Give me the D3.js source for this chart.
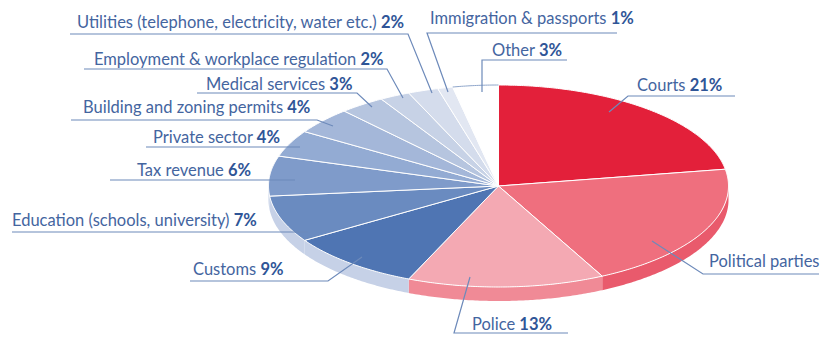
<!DOCTYPE html>
<html>
<head>
<meta charset="utf-8">
<script src="https://cdn.jsdelivr.net/npm/d3@7"></script>
<style>
html,body{margin:0;padding:0;background:#fff}
svg{display:block}
text{font-family:Lato,"Open Sans",sans-serif;font-size:16.5px;fill:#44659f}
text .pct{font-weight:700;fill:#2f5597}
</style>
</head>
<body>
<svg id="chart" width="822" height="338"></svg>
<script>
// Sectors, clockwise from twelve o'clock
const sectors = ["Courts","Political parties","Police","Customs","Education (schools, university)","Tax revenue","Private sector","Building and zoning permits","Medical services","Employment & workplace regulation","Utilities (telephone, electricity, water etc.)","Immigration & passports","Other"];
const shares = [21,19,13,9,7,6,4,4,3,2,2,1,3];
const shareLabels = ["21%","","13%","9%","7%","6%","4%","4%","3%","2%","2%","1%","3%"];
const topColors = ["#e3203a","#ef6f7e","#f4a9b3","#4f75b3","#6a8bc0","#7f9bca","#93abd3","#a4b7d9","#b6c5df","#c7d2e6","#d4dcec","#e2e7f2","#ffffff"];
const sideColors = ["#c81c32","#e95a6c","#f08a96","#c6d1e7","#c6d1e7","#c6d1e7","#c6d1e7","#c6d1e7","#c6d1e7","#c6d1e7","#c6d1e7","#c6d1e7","#ffffff"];

// Label anchor (x, baseline) and leader polyline for each sector
const labelAnchors = [[637,91],[709,267],[472,330],[193,275],[12,226],[137,176],[153,143],[83,113],[206,90],[94,65],[77,28],[430,24],[492,56]];
const leaders = [
  [[735,96],[628,96],[609,112]],
  [[819,274],[703,274],[652,241]],
  [[568,333],[454,333],[470,277]],
  [[190,281],[328,281],[362,257]],
  [[12,232],[308,232]],
  [[110,180],[295,180]],
  [[146,147],[300,147]],
  [[71,120],[317,120],[333,126]],
  [[197,93],[357,93],[372,107]],
  [[84,69],[387,69],[403,98]],
  [[70,34],[408,34],[432,93]],
  [[617,33],[427,33],[448,92]],
  [[567,60],[482,60],[482,92]]
];

const x = d3.scaleLinear().domain([-1,1]).range([268.5,728.5]);
const y = d3.scaleLinear().domain([-1,1]).range([287,85]);
const depth = 14;
const project = (a, r = 1, dz = 0) => [x(r*Math.sin(a)), y(r*Math.cos(a)) + dz];
const line = d3.line();
const arcAngles = (a0, a1) => {
  const n = Math.max(2, Math.ceil((a1-a0)/0.01));
  return d3.range(n+1).map(i => a0 + (a1-a0)*i/n);
};

const slices = d3.pie().sort(null).value(d => d)(shares);
const svg = d3.select("#chart");

// Rim below the front half of the disc
const front = [Math.PI/2, 3*Math.PI/2];
svg.append("g").selectAll("path")
  .data(slices.filter(s => s.endAngle > front[0] && s.startAngle < front[1]))
  .join("path")
  .attr("fill", s => sideColors[s.index])
  .attr("d", s => {
    const as = arcAngles(Math.max(s.startAngle, front[0]), Math.min(s.endAngle, front[1]));
    return line([...as.map(a => project(a)), ...as.slice().reverse().map(a => project(a,1,depth))]) + "Z";
  });

// Disc top
svg.append("g").selectAll("path")
  .data(slices)
  .join("path")
  .attr("fill", s => topColors[s.index])
  .attr("stroke", "#fff")
  .attr("stroke-width", 1)
  .attr("stroke-linejoin", "round")
  .attr("d", s => line([project(0,0), ...arcAngles(s.startAngle, s.endAngle).map(a => project(a))]) + "Z");

// Thin outline closing the white sector
const last = slices[slices.length-1];
svg.append("path")
  .attr("fill", "none")
  .attr("stroke", "#8fa6cb")
  .attr("stroke-width", 1)
  .attr("d", line(arcAngles(last.startAngle, last.endAngle).map(a => project(a))));

// Leaders
svg.append("g").selectAll("path")
  .data(leaders)
  .join("path")
  .attr("fill", "none")
  .attr("stroke", "#6d8aba")
  .attr("stroke-width", 1.2)
  .attr("d", d => line(d));

// Labels
const labels = svg.append("g").selectAll("text")
  .data(sectors)
  .join("text")
  .attr("x", (d,i) => labelAnchors[i][0])
  .attr("y", (d,i) => labelAnchors[i][1]);
labels.append("tspan").text((d,i) => shareLabels[i] ? d + " " : d);
labels.append("tspan").attr("class","pct").text((d,i) => shareLabels[i]);
</script>
</body>
</html>
